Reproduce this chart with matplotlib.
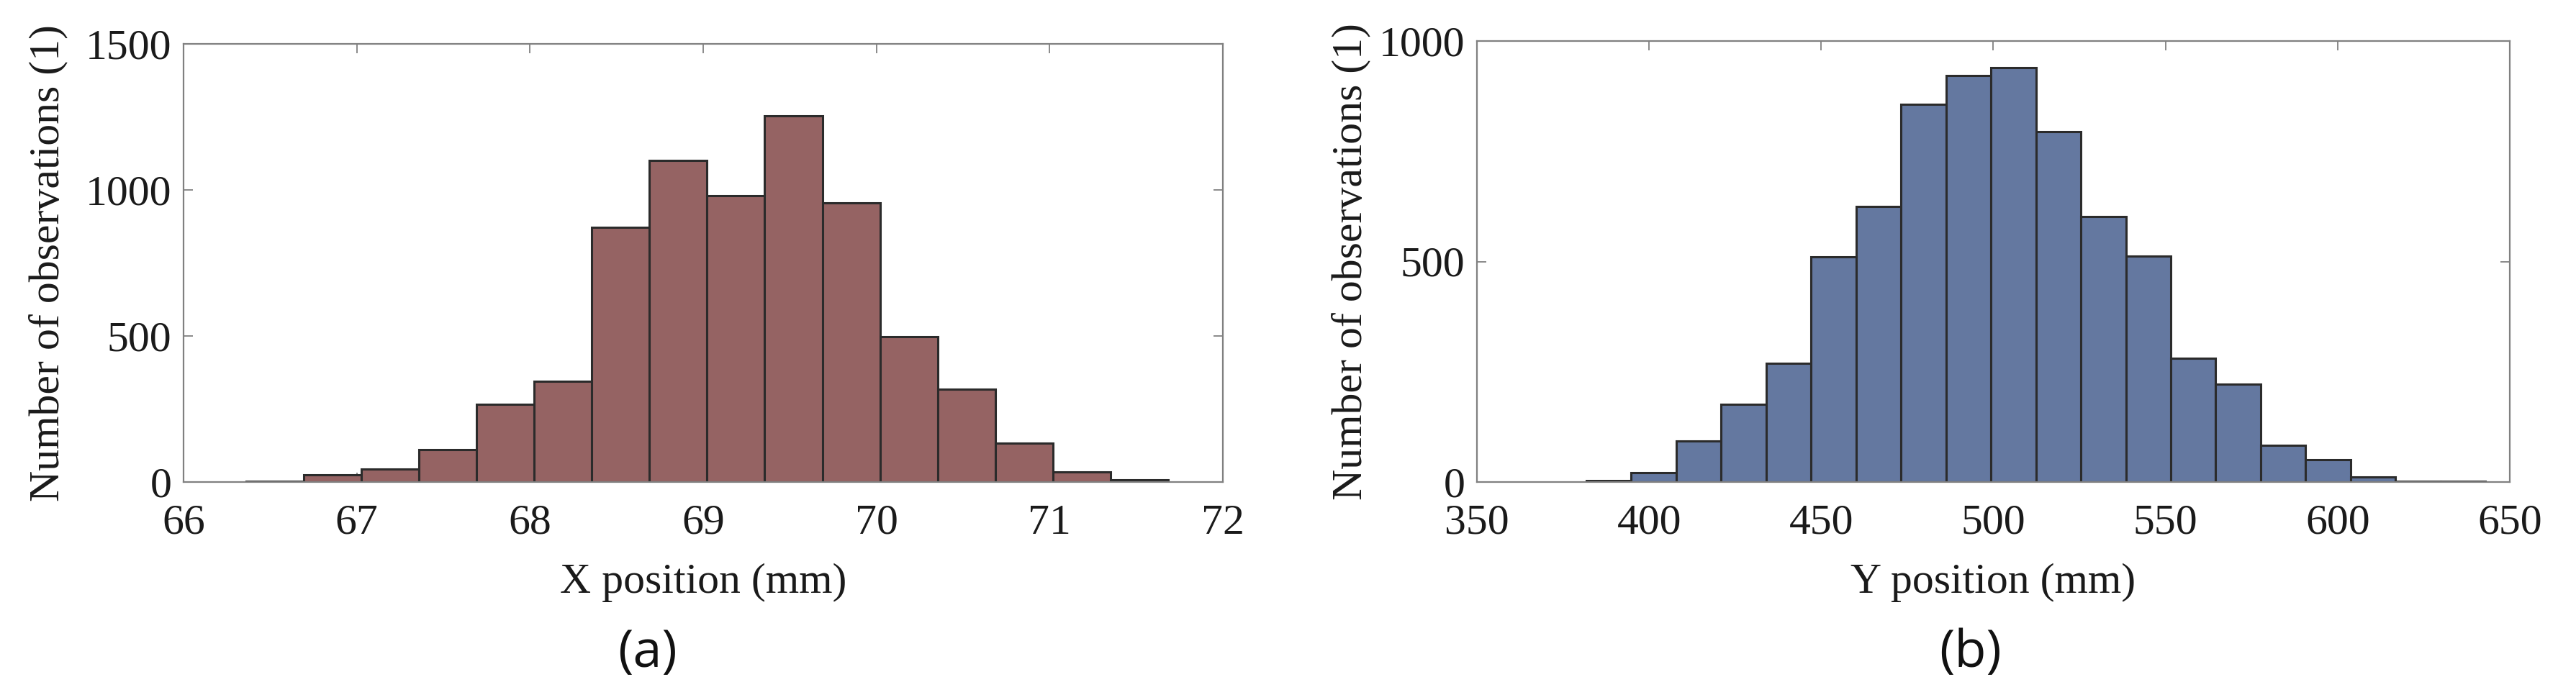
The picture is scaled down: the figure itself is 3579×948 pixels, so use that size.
import numpy as np
import matplotlib
matplotlib.use("Agg")
import matplotlib.pyplot as plt

# ---------------- data ----------------
# Panel (a): X position histogram
x_bin_start = 66.36
x_bin_width = 0.3328
x_counts = [3, 24, 44, 110, 266, 345, 873, 1101, 980, 1254, 956, 498, 318, 133, 34, 7]
x_ticks = [66, 67, 68, 69, 70, 71, 72]
x_yticks = [0, 500, 1000, 1500]

# Panel (b): Y position histogram
y_bin_start = 381.75
y_bin_width = 13.06
y_counts = [3, 22, 93, 176, 269, 511, 624, 856, 921, 940, 795, 602, 513, 281, 222, 83, 51, 12, 2, 1]
y_ticks = [350, 400, 450, 500, 550, 600, 650]
y_yticks = [0, 500, 1000]

color_a = "#956363"
color_b = "#6478a0"
edge_col = "#2b2b2b"
spine_col = "#808080"
text_col = "#1a1a1a"

serif = ["Liberation Serif", "DejaVu Serif"]
fs = 43

fig = plt.figure(figsize=(35.8, 9.48), dpi=100)
W, H = 3580, 948

def make_axes(l, r, t, b):
    return fig.add_axes([l / W, 1 - b / H, (r - l) / W, (b - t) / H])

ax_a = make_axes(255, 1699, 61, 670)
ax_b = make_axes(2052, 3487, 57, 670)

def style(ax, counts, start, width, color, xlim, xt, ylim, yt, xlabel, ylx):
    n = len(counts)
    lefts = start + width * np.arange(n)
    ax.bar(lefts, counts, width=width, align="edge", color=color,
           edgecolor=edge_col, linewidth=2.2, zorder=2)
    ax.set_xlim(*xlim)
    ax.set_ylim(*ylim)
    ax.set_xticks(xt)
    ax.set_yticks(yt)
    ax.set_xticklabels([str(v) for v in xt])
    ax.set_yticklabels([str(v) for v in yt])
    for s in ax.spines.values():
        s.set_color(spine_col)
        s.set_linewidth(1.6)
        s.set_zorder(3)
    ax.tick_params(direction="in", length=9.5, width=1.3, color=spine_col,
                   top=True, right=True, labelsize=fs, labelcolor=text_col)
    ax.tick_params(axis="x", pad=22)
    ax.tick_params(axis="y", pad=12)
    for lab in ax.get_xticklabels() + ax.get_yticklabels():
        lab.set_family(serif)
    ax.set_xlabel(xlabel, fontsize=fs, family=serif, color=text_col, labelpad=20)
    ax.set_ylabel("Number of observations (1)", fontsize=fs, family=serif,
                  color=text_col)
    ax.yaxis.set_label_coords(ylx, 0.5)

style(ax_a, x_counts, x_bin_start, x_bin_width, color_a, (66, 72), x_ticks,
      (0, 1500), x_yticks, "X position (mm)", -0.111)
style(ax_b, y_counts, y_bin_start, y_bin_width, color_b, (350, 650), y_ticks,
      (0, 1000), y_yticks, "Y position (mm)", -0.103)

fig.text(900 / W, 1 - 908 / H, "(a)", ha="center", va="center",
         fontsize=52, family=["Open Sans", "DejaVu Sans"], color="#111111")
fig.text(2738 / W, 1 - 908 / H, "(b)", ha="center", va="center",
         fontsize=52, family=["Open Sans", "DejaVu Sans"], color="#111111")

fig.savefig("out.png", dpi=100, facecolor="white")
